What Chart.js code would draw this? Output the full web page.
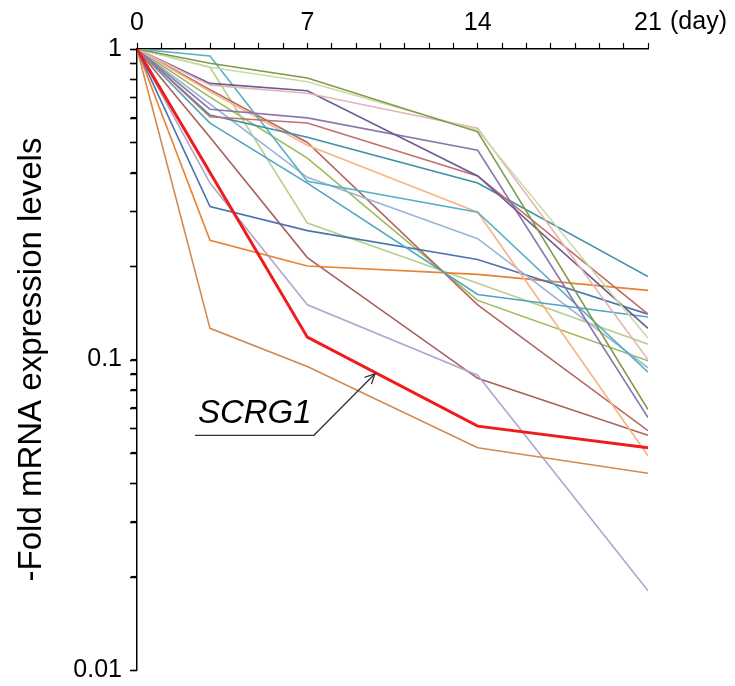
<!DOCTYPE html>
<html>
<head>
<meta charset="utf-8">
<script src="https://cdn.jsdelivr.net/npm/chart.js@4.4.0/dist/chart.umd.min.js"></script>
<style>
  body { margin: 0; background: #fff; }
  #wrap { width: 735px; height: 686px; position: relative; }
</style>
</head>
<body>
<div id="wrap"><canvas id="mycanvas"></canvas></div>
<script>
// sampling days (x axis)
var days = [0, 3, 7, 14, 21];
var dayTicks = [0, 7, 14, 21];
var yLabels = [1, 0.1, 0.01];

// fold expression values, one array per gene
var scrg1  = [1, 0.40, 0.118, 0.061, 0.052];
var gene01 = [1, 0.90, 0.806, 0.541, 0.069];
var gene02 = [1, 0.873, 0.784, 0.548, 0.117];
var gene03 = [1, 0.765, 0.72, 0.556, 0.100];
var gene04 = [1, 0.775, 0.734, 0.39, 0.126];
var gene05 = [1, 0.64, 0.60, 0.472, 0.065];
var gene06 = [1, 0.605, 0.578, 0.39, 0.14];
var gene07 = [1, 0.613, 0.52, 0.37, 0.185];
var gene08 = [1, 0.949, 0.375, 0.298, 0.091];
var gene09 = [1, 0.577, 0.37, 0.162, 0.137];
var gene10 = [1, 0.73, 0.49, 0.298, 0.049];
var gene11 = [1, 0.665, 0.386, 0.245, 0.094];
var gene12 = [1, 0.311, 0.26, 0.21, 0.14];
var gene13 = [1, 0.242, 0.20, 0.188, 0.167];
var gene14 = [1, 0.126, 0.095, 0.052, 0.043];
var gene15 = [1, 0.37, 0.15, 0.089, 0.018];
var gene16 = [1, 0.52, 0.213, 0.087, 0.057];
var gene17 = [1, 0.74, 0.50, 0.15, 0.059];
var gene18 = [1, 0.873, 0.275, 0.176, 0.112];
var gene19 = [1, 0.70, 0.445, 0.155, 0.099];

var others = [gene01, gene02, gene03, gene04, gene05, gene06, gene07, gene08, gene09, gene10,
              gene11, gene12, gene13, gene14, gene15, gene16, gene17, gene18, gene19];
var otherColors = ["#7f9a48", "#c9dba6", "#e3b5b4", "#6e5a93", "#8c76ad", "#c0706d", "#3f8fa5",
                   "#5aafc8", "#4fa6bf", "#f7b583", "#9cb4d8", "#4a74ad", "#e8822f", "#d08a52",
                   "#b1a6cc", "#a8605c", "#b56562", "#b7cf8e", "#9bbb59"];

// annotation for SCRG1 (in data units)
var noteText = "SCRG1";
var noteStart = {x: 2.38, y: 0.057};
var noteElbow = {x: 7.27, y: 0.057};
var noteTip = {x: 9.78, y: 0.090};

var FONT = 'Arial, "Liberation Sans", sans-serif';

function toPoints(arr) {
  var pts = [];
  for (var i in arr) pts.push({x: days[i], y: arr[i]});
  return pts;
}

var datasets = [];
datasets.push({
  label: "SCRG1",
  data: toPoints(scrg1),
  borderColor: "#f01c1c",
  borderWidth: 3,
  pointRadius: 0,
  fill: false,
  tension: 0
});
for (var i in others) {
  datasets.push({
    label: "gene" + (Number(i) + 1),
    data: toPoints(others[i]),
    borderColor: otherColors[i],
    borderWidth: 1.6,
    pointRadius: 0,
    fill: false,
    tension: 0
  });
}

var extras = {
  id: "extras",
  afterDraw: function(chart) {
    var ctx = chart.ctx;
    var xs = chart.scales.x, ys = chart.scales.y;
    ctx.save();
    // y tick marks (every 1..9 of each decade)
    ctx.strokeStyle = "#000";
    ctx.lineWidth = 1.5;
    ctx.beginPath();
    for (var k = 0; k < ys.ticks.length; k++) {
      var py = Math.round(ys.getPixelForValue(ys.ticks[k].value)) + 0.5;
      ctx.moveTo(ys.right - 7, py);
      ctx.lineTo(ys.right, py);
    }
    ctx.stroke();

    // unit next to the last day label
    ctx.fillStyle = "#000";
    ctx.font = "25px " + FONT;
    ctx.textAlign = "left";
    ctx.textBaseline = "middle";
    ctx.fillText("(day)", xs.right + 22, 22);

    // SCRG1 callout
    var sx = xs.getPixelForValue(noteStart.x), sy = ys.getPixelForValue(noteStart.y);
    var ex = xs.getPixelForValue(noteElbow.x), ey = ys.getPixelForValue(noteElbow.y);
    var tx = xs.getPixelForValue(noteTip.x), ty = ys.getPixelForValue(noteTip.y);
    ctx.strokeStyle = "#333";
    ctx.lineWidth = 1.3;
    ctx.beginPath();
    ctx.moveTo(sx, sy);
    ctx.lineTo(ex, ey);
    ctx.lineTo(tx, ty);
    ctx.stroke();
    var ang = Math.atan2(ty - ey, tx - ex);
    ctx.beginPath();
    ctx.moveTo(tx - 11 * Math.cos(ang - 0.45), ty - 11 * Math.sin(ang - 0.45));
    ctx.lineTo(tx, ty);
    ctx.lineTo(tx - 11 * Math.cos(ang + 0.45), ty - 11 * Math.sin(ang + 0.45));
    ctx.stroke();
    ctx.fillStyle = "#000";
    ctx.font = "italic 33px " + FONT;
    ctx.textAlign = "left";
    ctx.textBaseline = "alphabetic";
    ctx.fillText(noteText, sx + 3, sy - 12);
    ctx.restore();
  }
};

function isDecade(v) {
  var l = Math.log10(v);
  return Math.abs(l - Math.round(l)) < 1e-6;
}

var ctx = document.getElementById("mycanvas");
var chart = new Chart(ctx, {
  type: "line",
  data: { datasets: datasets },
  plugins: [extras],
  options: {
    responsive: true,
    maintainAspectRatio: false,
    animation: false,
    layout: { padding: { left: 0, right: 87, top: 0, bottom: 16 } },
    plugins: { legend: { display: false }, tooltip: { enabled: false } },
    scales: {
      x: {
        type: "linear",
        position: "top",
        min: 0,
        max: 21,
        afterFit: function(scale) { scale.height = 49; },
        border: { display: true, color: "#000", width: 1.5 },
        grid: { display: true, drawOnChartArea: false, drawTicks: true, tickLength: 6, color: "#000", tickWidth: 1.2 },
        ticks: {
          stepSize: 1,
          autoSkip: false,
          maxRotation: 0,
          padding: 5,
          color: "#000",
          font: { size: 25, family: FONT },
          callback: function(v) { return dayTicks.indexOf(v) >= 0 ? String(v) : ""; }
        }
      },
      y: {
        type: "logarithmic",
        min: 0.01,
        max: 1,
        afterFit: function(scale) {
          scale.width = 137;
          scale.paddingTop = 0;
          scale.paddingBottom = 0;
        },
        afterBuildTicks: function(scale) {
          // 1..9 in each decade, like the minor marks on the original axis
          var t = [];
          for (var e = -2; e < 0; e++) {
            for (var m = 1; m < 10; m++) t.push({value: +(m * Math.pow(10, e)).toPrecision(6)});
          }
          t.push({value: 1});
          scale.ticks = t;
        },
        border: { display: true, color: "#000", width: 1.5 },
        grid: { display: true, drawOnChartArea: false, drawTicks: true, tickLength: 6, color: "#000", tickWidth: 1.2 },
        title: {
          display: true,
          text: "-Fold mRNA expression levels",
          color: "#000",
          font: { size: 33, family: FONT },
          padding: { top: 12, bottom: 0 }
        },
        ticks: {
          autoSkip: false,
          padding: 9,
          color: "#000",
          font: { size: 25, family: FONT },
          callback: function(v) {
            if (!isDecade(v)) return " ";
            for (var k in yLabels) if (Math.abs(yLabels[k] - v) < 1e-9) return String(yLabels[k]);
            return " ";
          }
        }
      }
    }
  }
});
</script>
</body>
</html>
